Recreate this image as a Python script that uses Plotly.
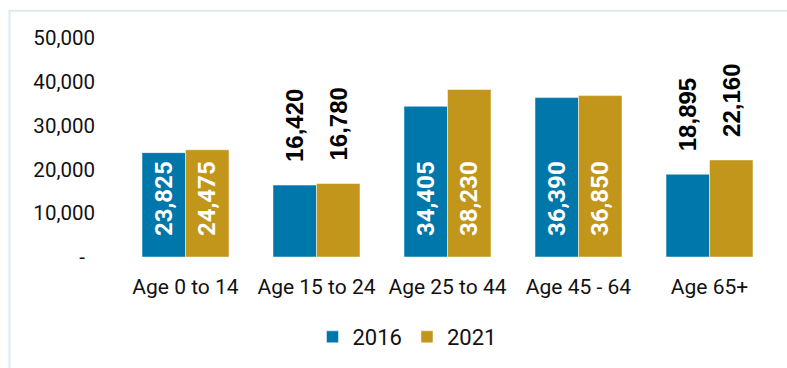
import plotly.graph_objects as go

# Population by age group, 2016 vs 2021
categories = ["Age 0 to 14", "Age 15 to 24", "Age 25 to 44", "Age 45 - 64", "Age 65+"]
pop_2016 = [23825, 16420, 34405, 36390, 18895]
pop_2021 = [24475, 16780, 38230, 36850, 22160]
label_pos_2016 = ["inside", "outside", "inside", "inside", "outside"]
label_pos_2021 = ["inside", "outside", "inside", "inside", "outside"]
y_tick_vals = [0, 10000, 20000, 30000, 40000, 50000]
y_tick_text = ["-\u00a0\u00a0", "10,000", "20,000", "30,000", "40,000", "50,000"]

BLUE = "#0077AB"
GOLD = "#C1961A"

W, H = 787, 368
L, R, T, B = 120, 12, 38, 110
plot_w = W - L - R
plot_h = H - T - B


def px_to_paper_x(px):
    return (px - L) / plot_w


def px_to_paper_y(py):
    return (H - B - py) / plot_h


label_tpl = "\u00a0\u00a0\u00a0%{y:,}"

fig = go.Figure()
for name, vals, pos, color in [
    ("2016", pop_2016, label_pos_2016, BLUE),
    ("2021", pop_2021, label_pos_2021, GOLD),
]:
    fig.add_trace(
        go.Bar(
            name=name,
            x=categories,
            y=vals,
            marker=dict(color=color, line=dict(color="rgba(255,255,255,0.6)", width=0.8)),
            texttemplate=label_tpl,
            textposition=pos,
            textangle=-90,
            insidetextanchor="start",
            constraintext="none",
            cliponaxis=False,
            insidetextfont=dict(family="Roboto", size=24, color="white", weight="bold"),
            outsidetextfont=dict(family="Liberation Sans, Arial", size=24, color="black", weight="bold"),
            hoverinfo="skip",
        )
    )

# light blue frame around the chart
fig.add_shape(
    type="rect",
    xref="paper", yref="paper",
    x0=px_to_paper_x(9.5), x1=px_to_paper_x(W + 20),
    y0=px_to_paper_y(H + 20), y1=px_to_paper_y(10.5),
    line=dict(color="#DCEAF6", width=2),
    fillcolor="rgba(0,0,0,0)",
    layer="below",
)

fig.update_layout(
    width=W, height=H,
    margin=dict(l=L, r=R, t=T, b=B),
    paper_bgcolor="white",
    plot_bgcolor="white",
    barmode="group",
    bargap=0.336,
    bargroupgap=0,
    font=dict(family="Roboto", size=20, color="#111111"),
    showlegend=True,
    legend=dict(
        orientation="h",
        x=px_to_paper_x(407), xanchor="center",
        y=px_to_paper_y(337), yanchor="middle",
        font=dict(family="Roboto", size=22, color="#111111"),
        itemwidth=30,
        traceorder="normal",
    ),
    xaxis=dict(
        showgrid=False, showline=False, zeroline=False,
        ticks="", ticklabelstandoff=15,
        tickfont=dict(family="Roboto", size=21, color="#111111"),
    ),
    yaxis=dict(
        range=[0, 50000],
        showgrid=False, showline=False, zeroline=False,
        tickvals=y_tick_vals, ticktext=y_tick_text,
        ticks="", ticklabelstandoff=24,
        tickfont=dict(family="Roboto", size=20.5, color="#111111"),
    ),
)

fig.write_html("out.html")
